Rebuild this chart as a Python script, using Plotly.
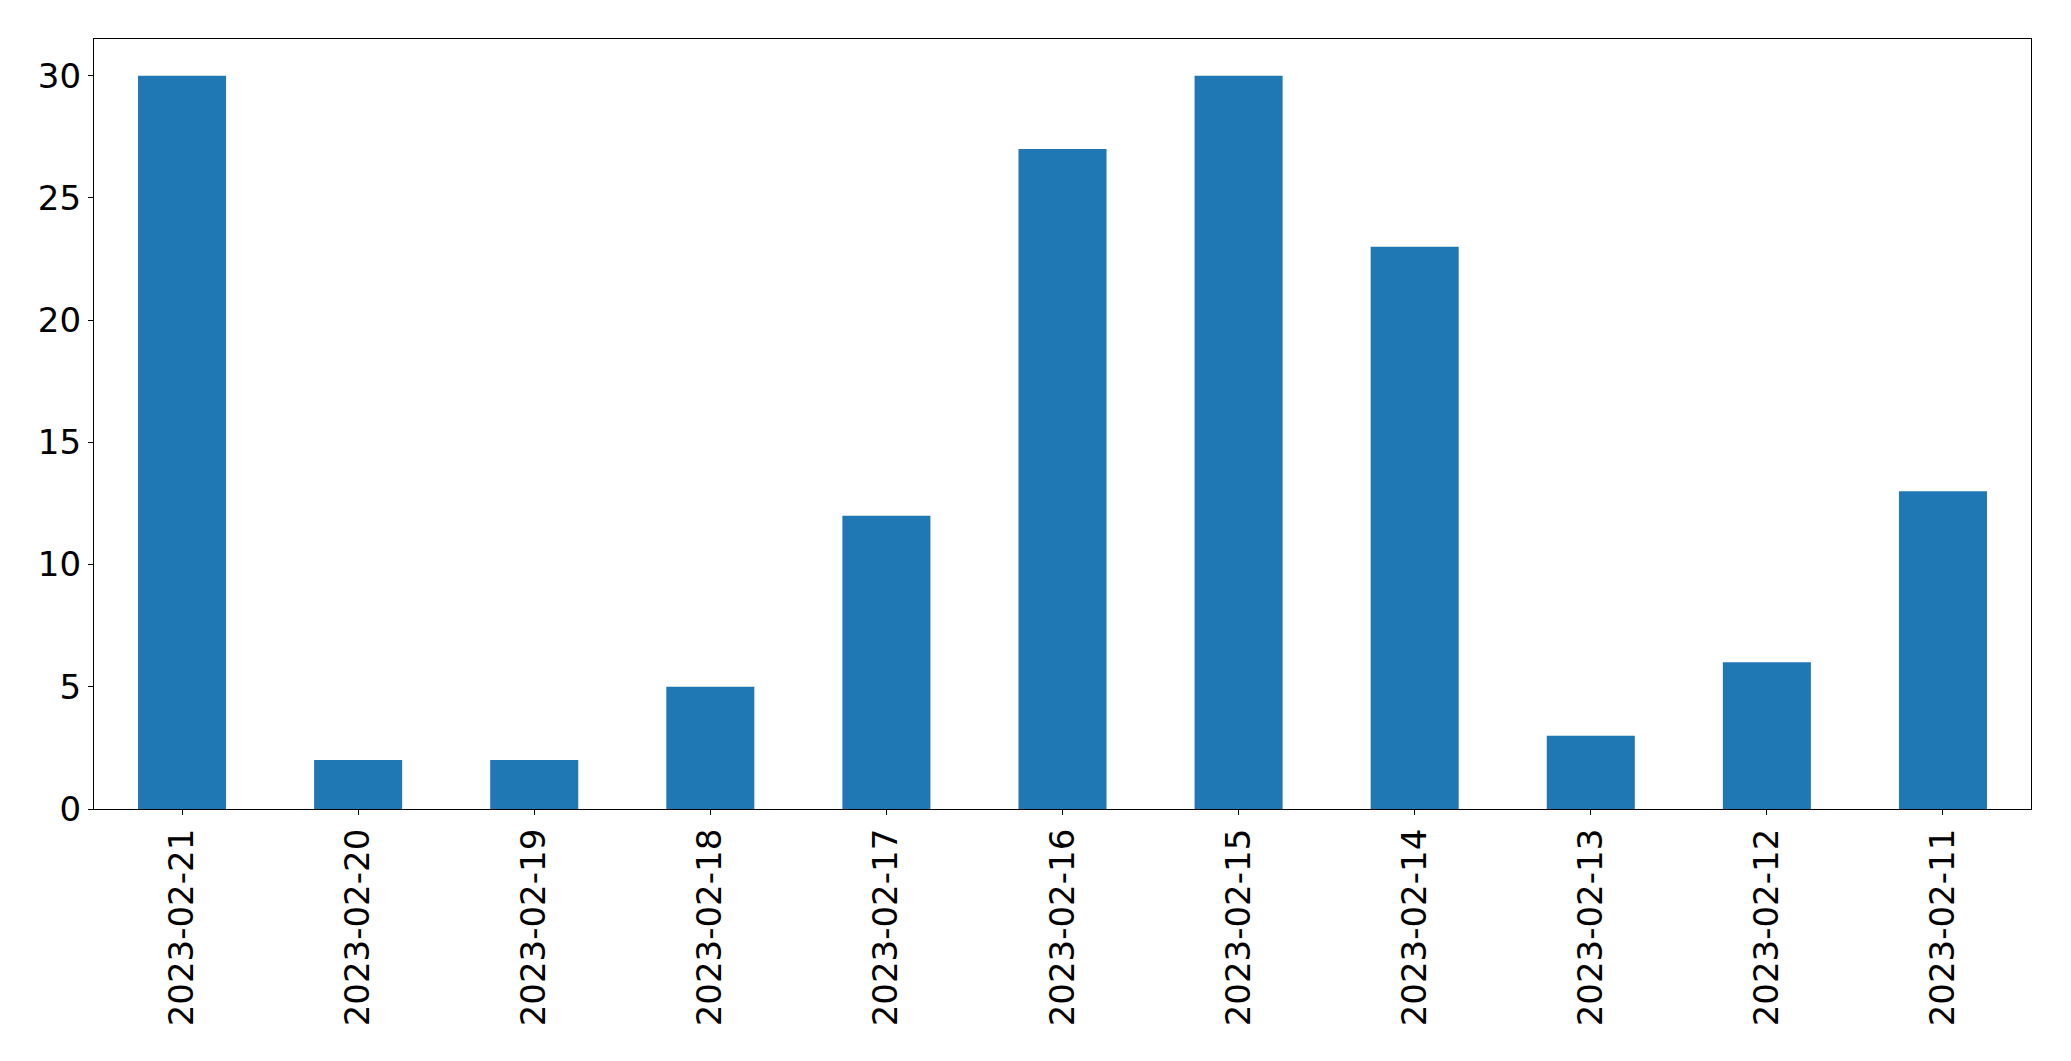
import plotly.graph_objects as go

dates = ["2023-02-21", "2023-02-20", "2023-02-19", "2023-02-18", "2023-02-17",
         "2023-02-16", "2023-02-15", "2023-02-14", "2023-02-13", "2023-02-12", "2023-02-11"]
counts = [30, 2, 2, 5, 12, 27, 30, 23, 3, 6, 13]
y_ticks = [0, 5, 10, 15, 20, 25, 30]

fig = go.Figure(go.Bar(x=dates, y=counts, width=0.5, marker=dict(color="#1f77b4", line=dict(width=0))))

fig.update_layout(
    width=2063, height=1053,
    margin=dict(l=86, r=40, t=31, b=252, pad=0),
    paper_bgcolor="white", plot_bgcolor="white",
    font=dict(family="DejaVu Sans", size=34, color="black"),
    showlegend=False,
)
fig.update_xaxes(
    type="category", range=[-0.5, 10.5],
    tickangle=-90, ticks="outside", ticklen=5, tickcolor="black",
    showline=True, linecolor="black", linewidth=1.3, mirror=True,
    showgrid=False, zeroline=False,
)
fig.update_yaxes(
    range=[0, 31.5], tickvals=y_ticks,
    ticks="outside", ticklen=5, tickcolor="black",
    showline=True, linecolor="black", linewidth=1.3, mirror=True,
    showgrid=False, zeroline=False,
)

fig.write_html("out.html")
